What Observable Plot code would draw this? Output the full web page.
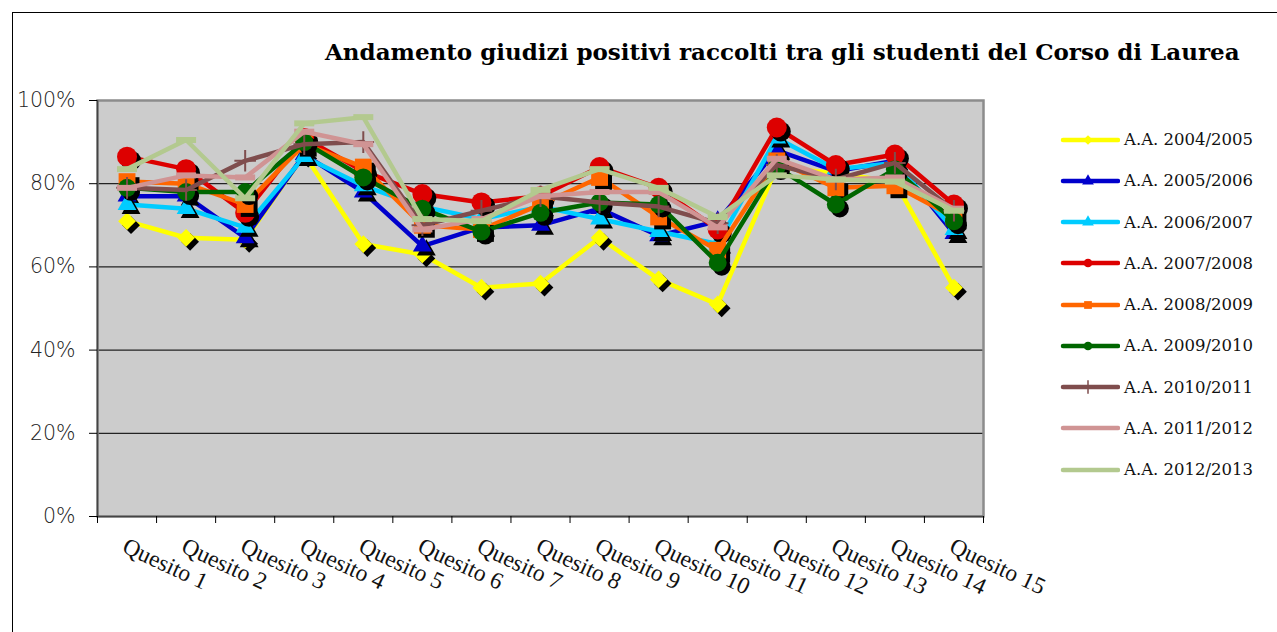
<!DOCTYPE html>
<html><head><meta charset="utf-8">
<script src="https://cdn.jsdelivr.net/npm/d3@7"></script>
<script src="https://cdn.jsdelivr.net/npm/@observablehq/plot@0.6"></script>
<style>
body{margin:0;background:#fff;}
#wrap{position:relative;width:1277px;height:632px;overflow:hidden;background:#fff;}
#border{position:absolute;left:12px;top:12px;width:1300px;height:700px;border-left:1px solid #000;border-top:1px solid #000;}
#title{position:absolute;left:325px;top:38px;font:bold 23px "DejaVu Serif";white-space:nowrap;color:#000;}
#chart{position:absolute;left:0;top:80px;}
#legend{position:absolute;left:1060px;top:119px;}
.row{height:41.25px;display:flex;align-items:center;}
.row span{font:16.5px "DejaVu Serif";color:#111;margin-left:4px;white-space:nowrap;}
</style></head><body>
<div id="wrap"><div id="border"></div>
<div id="title">Andamento giudizi positivi raccolti tra gli studenti del Corso di Laurea</div>
<div id="chart"></div><div id="legend"></div></div>
<script>
const categories = ["Quesito 1","Quesito 2","Quesito 3","Quesito 4","Quesito 5","Quesito 6","Quesito 7","Quesito 8","Quesito 9","Quesito 10","Quesito 11","Quesito 12","Quesito 13","Quesito 14","Quesito 15"];
const seriesNames = ["A.A. 2004/2005","A.A. 2005/2006","A.A. 2006/2007","A.A. 2007/2008","A.A. 2008/2009","A.A. 2009/2010","A.A. 2010/2011","A.A. 2011/2012","A.A. 2012/2013"];
const v2004 = [71, 67, 66.5, 87, 65.5, 63, 55, 56, 67, 57, 51, 84, 82.5, 80.5, 55];
const v2005 = [77, 77, 67, 87, 78, 65, 69.5, 70, 74, 67.5, 71, 88, 83, 85.5, 68];
const v2006 = [75, 74, 69.5, 86.5, 79.5, 74.5, 71.5, 74.5, 71.5, 68.5, 65.5, 91, 83.5, 85, 69];
const v2007 = [86.5, 83.5, 73, 91, 83, 77.5, 75.5, 77, 84, 79, 69, 93.5, 84.5, 87, 75];
const v2008 = [80.5, 80, 75, 89.5, 84, 70, 69, 75, 81.5, 72, 64, 85.5, 79, 79.5, 72];
const v2009 = [79, 78, 78, 90, 81.5, 74, 68.5, 73, 75.5, 75, 61, 84, 75, 83.5, 71];
const v2010 = [79, 78.5, 85.5, 89.5, 90, 70, 73.5, 77, 75.5, 74.5, 70.5, 84.5, 81, 85, 73.5];
const v2011 = [79, 82, 81.5, 92.5, 89.5, 69, 71.5, 77, 78, 78, 69.5, 86, 81, 81.5, 74];
const v2012 = [83.5, 90.5, 76.5, 94.5, 96, 71.5, 71, 78.5, 83.5, 79, 72, 82, 81, 80.5, 73.5];
const allValues = [v2004, v2005, v2006, v2007, v2008, v2009, v2010, v2011, v2012];
const yTicks = [0, 20, 40, 60, 80, 100];

const colors = ["#ffff00","#0000cc","#00ccff","#dd0000","#ff6600","#006600","#7f4d4d","#d09494","#b3c98f"];
const dash = {draw(ctx, size){ const r = Math.sqrt(size/Math.PI); ctx.rect(-r, -r*0.3, 2*r, r*0.6); }};
const symbols = ["diamond2","triangle","triangle","circle","square","circle","plus",dash,dash];
const radii = [8, 7, 7, 10, 9.5, 9, 7, 10, 10];
const shadow = [true,true,true,true,true,true,false,false,false];

const marks = [
  Plot.frame({fill:"#cccccc"}),
  Plot.ruleY(yTicks.filter(t => t > 0 && t < 100), {stroke:"#222", strokeWidth:1.2}),
  Plot.frame({stroke:"#8c8c8c", strokeWidth:2.5})
];
allValues.forEach((vals, s) => {
  const data = vals.map((v, i) => ({i, v}));
  const isStroke = symbols[s] === "plus";
  marks.push(Plot.line(data, {x: d => d.i + 0.5, y: "v", stroke: colors[s], strokeWidth: 4.5, strokeLinejoin:"round"}));
  if (shadow[s]) marks.push(Plot.dot(data, {x: d => d.i + 0.5, y: "v", dx: 4, dy: 4, symbol: symbols[s], r: radii[s], fill: "#000", stroke: "none"}));
  if (isStroke) marks.push(Plot.dot(data, {x: d => d.i + 0.5, y: "v", symbol: "plus", r: radii[s], stroke: colors[s], strokeWidth: 2}));
  else marks.push(Plot.dot(data, {x: d => d.i + 0.5, y: "v", symbol: symbols[s], r: radii[s], fill: colors[s], stroke: "none"}));
});
marks.push(
  Plot.ruleX([0], {stroke:"#444", strokeWidth:1.5}),
  Plot.ruleY([0], {stroke:"#444", strokeWidth:1.5}),
  Plot.axisY({ticks: yTicks, tickFormat: d => d + "%", tickSize: 8, tickPadding: 14, fontSize: 20.5, fontFamily: "DejaVu Sans", fontWeight: 300, fill: "#222", label: null}),
  Plot.axisX({ticks: d3.range(0, 16), tickFormat: () => "", tickSize: 7, label: null}),
  Plot.text(categories, {x: (d, i) => i + 0.5, frameAnchor: "bottom", text: d => d, dy: 20, dx: 1, textAnchor: "start", lineAnchor: "top", rotate: 25, fontSize: 23.5, fontFamily: "Liberation Serif", fill: "#111"})
);

const chart = Plot.plot({
  width: 1010, height: 552,
  marginLeft: 97, marginRight: 27, marginTop: 20, marginBottom: 116,
  x: {type: "linear", domain: [0, 15], label: null},
  y: {domain: [0, 100], label: null},
  style: {background: "transparent", overflow: "visible"},
  marks
});
document.getElementById("chart").appendChild(chart);

// legend
const leg = d3.select("#legend");
seriesNames.forEach((name, s) => {
  const row = leg.append("div").attr("class", "row");
  const svg = row.append("svg").attr("width", 60).attr("height", 20);
  svg.append("line").attr("x1", 3).attr("x2", 58).attr("y1", 10).attr("y2", 10)
    .attr("stroke", colors[s]).attr("stroke-width", 4.5).attr("stroke-linecap", "round");
  const sym = symbols[s];
  const st = typeof sym === "string" ? {diamond2: d3.symbolDiamond2, triangle: d3.symbolTriangle, circle: d3.symbolCircle, square: d3.symbolSquare, plus: d3.symbolPlus}[sym] : sym;
  const p = svg.append("path").attr("transform", "translate(28,10)").attr("d", d3.symbol(st, 60)());
  if (sym === "plus") p.attr("fill", "none").attr("stroke", colors[s]).attr("stroke-width", 1.5);
  else if (typeof sym === "string") p.attr("fill", colors[s]);
  else p.remove();
  row.append("span").text(name);
});
</script>
</body></html>
